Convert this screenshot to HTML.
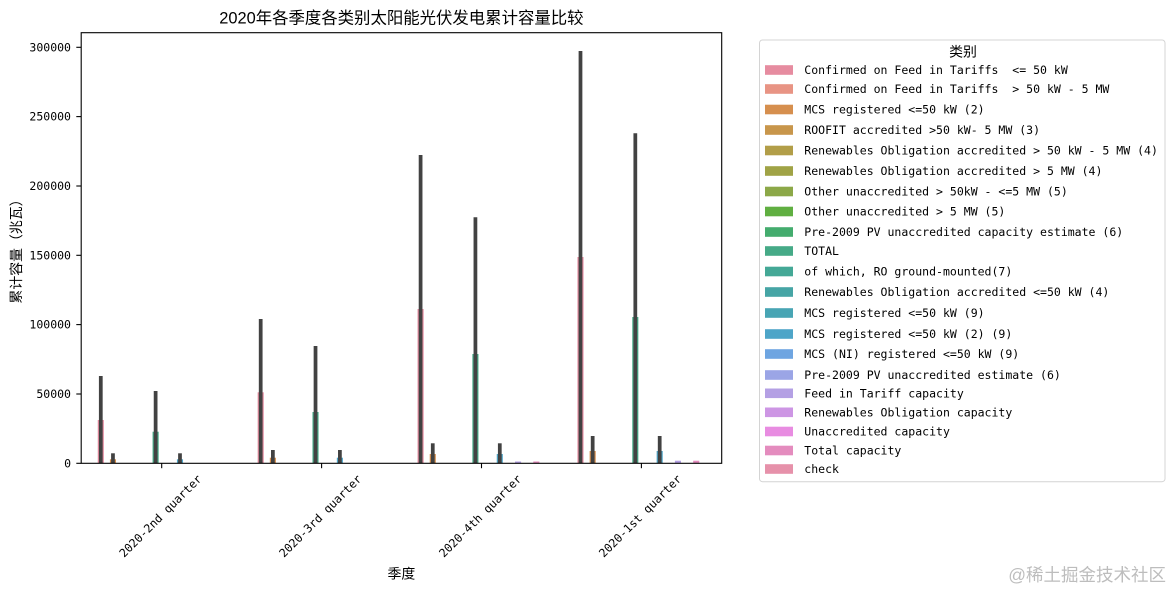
<!DOCTYPE html>
<html>
<head>
<meta charset="utf-8">
<style>
  html,body{margin:0;padding:0;background:#fff;}
  svg{display:block;}
  .mono{font-family:"DejaVu Sans Mono","Liberation Mono","Noto Sans CJK SC",monospace;font-size:11.53px;fill:#000;white-space:pre;}
  .cjk{font-family:"Liberation Sans","Noto Sans CJK SC",sans-serif;fill:#000;}
</style>
</head>
<body>
<svg width="1175" height="590" viewBox="0 0 1175 590" xmlns="http://www.w3.org/2000/svg">
  <rect x="0" y="0" width="1175" height="590" fill="#fff"/>

  <!-- Title -->
  <text class="cjk" x="401.4" y="18.5" font-size="16.4" text-anchor="middle" dominant-baseline="central">2020年各季度各类别太阳能光伏发电累计容量比较</text>

  <!-- Bars: group 0 -->
  <rect x="97.74" y="420" width="6.09" height="43.3" fill="#e68ca0"/>
  <rect x="109.92" y="459.3" width="6.09" height="4" fill="#d68f4e"/>
  <rect x="152.57" y="431.7" width="6.09" height="31.6" fill="#46aa87"/>
  <rect x="176.94" y="459.3" width="6.09" height="4" fill="#4ea5c8"/>
  <!-- group 1 -->
  <rect x="257.64" y="392.3" width="6.09" height="71" fill="#e68ca0"/>
  <rect x="269.82" y="457.7" width="6.09" height="5.6" fill="#d68f4e"/>
  <rect x="312.47" y="412" width="6.09" height="51.3" fill="#46aa87"/>
  <rect x="336.84" y="457.7" width="6.09" height="5.6" fill="#4ea5c8"/>
  <!-- group 2 -->
  <rect x="417.54" y="309" width="6.09" height="154.3" fill="#e68ca0"/>
  <rect x="429.72" y="454" width="6.09" height="9.3" fill="#d68f4e"/>
  <rect x="472.37" y="354" width="6.09" height="109.3" fill="#46aa87"/>
  <rect x="496.74" y="454" width="6.09" height="9.3" fill="#4ea5c8"/>
  <rect x="515.01" y="461.5" width="6.09" height="1.8" fill="#b4a0e4"/>
  <rect x="533.29" y="461.5" width="6.09" height="1.8" fill="#e48cbe"/>
  <!-- group 3 -->
  <rect x="577.44" y="257" width="6.09" height="206.3" fill="#e68ca0"/>
  <rect x="589.62" y="451" width="6.09" height="12.3" fill="#d68f4e"/>
  <rect x="632.27" y="317" width="6.09" height="146.3" fill="#46aa87"/>
  <rect x="656.64" y="451" width="6.09" height="12.3" fill="#4ea5c8"/>
  <rect x="674.91" y="460.7" width="6.09" height="2.6" fill="#b4a0e4"/>
  <rect x="693.19" y="460.7" width="6.09" height="2.6" fill="#e48cbe"/>

  <!-- Error bars -->
  <g stroke="#424242" stroke-width="3.75">
    <line x1="100.79" y1="463.3" x2="100.79" y2="376"/>
    <line x1="112.97" y1="463.3" x2="112.97" y2="453.3"/>
    <line x1="155.62" y1="463.3" x2="155.62" y2="391"/>
    <line x1="179.99" y1="463.3" x2="179.99" y2="453.3"/>

    <line x1="260.69" y1="463.3" x2="260.69" y2="319"/>
    <line x1="272.87" y1="463.3" x2="272.87" y2="450"/>
    <line x1="315.52" y1="463.3" x2="315.52" y2="346"/>
    <line x1="339.89" y1="463.3" x2="339.89" y2="450"/>

    <line x1="420.59" y1="463.3" x2="420.59" y2="155"/>
    <line x1="432.77" y1="463.3" x2="432.77" y2="443.3"/>
    <line x1="475.42" y1="463.3" x2="475.42" y2="217.3"/>
    <line x1="499.79" y1="463.3" x2="499.79" y2="443.3"/>

    <line x1="580.49" y1="463.3" x2="580.49" y2="51"/>
    <line x1="592.67" y1="463.3" x2="592.67" y2="436"/>
    <line x1="635.32" y1="463.3" x2="635.32" y2="133.3"/>
    <line x1="659.69" y1="463.3" x2="659.69" y2="436"/>
  </g>

  <!-- Axes frame -->
  <rect x="81.2" y="32.7" width="640.5" height="430.6" fill="none" stroke="#000" stroke-width="1.1"/>

  <!-- Y ticks -->
  <g stroke="#000" stroke-width="1.1">
    <line x1="76.3" y1="463.3" x2="81.2" y2="463.3"/>
    <line x1="76.3" y1="394" x2="81.2" y2="394"/>
    <line x1="76.3" y1="324.6" x2="81.2" y2="324.6"/>
    <line x1="76.3" y1="255.3" x2="81.2" y2="255.3"/>
    <line x1="76.3" y1="186" x2="81.2" y2="186"/>
    <line x1="76.3" y1="116.6" x2="81.2" y2="116.6"/>
    <line x1="76.3" y1="47.3" x2="81.2" y2="47.3"/>
  </g>
  <text class="mono" x="71" y="463.3" text-anchor="end" dominant-baseline="central">0</text>
  <text class="mono" x="71" y="394" text-anchor="end" dominant-baseline="central">50000</text>
  <text class="mono" x="71" y="324.6" text-anchor="end" dominant-baseline="central">100000</text>
  <text class="mono" x="71" y="255.3" text-anchor="end" dominant-baseline="central">150000</text>
  <text class="mono" x="71" y="186" text-anchor="end" dominant-baseline="central">200000</text>
  <text class="mono" x="71" y="116.6" text-anchor="end" dominant-baseline="central">250000</text>
  <text class="mono" x="71" y="47.3" text-anchor="end" dominant-baseline="central">300000</text>

  <!-- X ticks -->
  <g stroke="#000" stroke-width="1.1">
    <line x1="161.7" y1="463.3" x2="161.7" y2="468.2"/>
    <line x1="321.6" y1="463.3" x2="321.6" y2="468.2"/>
    <line x1="481.5" y1="463.3" x2="481.5" y2="468.2"/>
    <line x1="641.4" y1="463.3" x2="641.4" y2="468.2"/>
  </g>
  <text class="mono" x="160.5" y="516" text-anchor="middle" dominant-baseline="central" transform="rotate(-45 160.5 516)">2020-2nd quarter</text>
  <text class="mono" x="320.4" y="516" text-anchor="middle" dominant-baseline="central" transform="rotate(-45 320.4 516)">2020-3rd quarter</text>
  <text class="mono" x="480.3" y="516" text-anchor="middle" dominant-baseline="central" transform="rotate(-45 480.3 516)">2020-4th quarter</text>
  <text class="mono" x="640.2" y="516" text-anchor="middle" dominant-baseline="central" transform="rotate(-45 640.2 516)">2020-1st quarter</text>

  <!-- Axis labels -->
  <text class="cjk" x="401.4" y="573.5" font-size="13.9" text-anchor="middle" dominant-baseline="central">季度</text>
  <text class="cjk" x="16" y="248" font-size="13.9" text-anchor="middle" dominant-baseline="central" transform="rotate(-90 16 248)" style="font-family:'Noto Sans CJK SC',sans-serif">累计容量（兆瓦）</text>

  <!-- Legend -->
  <rect x="759.5" y="40" width="405.5" height="441.7" rx="3" ry="3" fill="#fff" stroke="#d4d4d4" stroke-width="1"/>
  <text class="cjk" x="963" y="51.5" font-size="13.9" text-anchor="middle" dominant-baseline="central">类别</text>

  <g>
    <rect x="765" y="65.2" width="28" height="9.6" fill="#e68ca0"/>
    <rect x="765" y="84.2" width="28" height="9.6" fill="#e89484"/>
    <rect x="765" y="104.7" width="28" height="9.6" fill="#d68f4e"/>
    <rect x="765" y="125.2" width="28" height="9.6" fill="#c8964b"/>
    <rect x="765" y="145.7" width="28" height="9.6" fill="#b29e48"/>
    <rect x="765" y="166.2" width="28" height="9.6" fill="#a0a346"/>
    <rect x="765" y="186.7" width="28" height="9.6" fill="#8ca848"/>
    <rect x="765" y="206.7" width="28" height="9.6" fill="#60af41"/>
    <rect x="765" y="227.2" width="28" height="9.6" fill="#44ac6e"/>
    <rect x="765" y="246.2" width="28" height="9.6" fill="#46aa87"/>
    <rect x="765" y="266.7" width="28" height="9.6" fill="#44a896"/>
    <rect x="765" y="287.2" width="28" height="9.6" fill="#46a5a5"/>
    <rect x="765" y="308.2" width="28" height="9.6" fill="#48a5b4"/>
    <rect x="765" y="329.2" width="28" height="9.6" fill="#4ea5c8"/>
    <rect x="765" y="349.2" width="28" height="9.6" fill="#6ea5e1"/>
    <rect x="765" y="370.2" width="28" height="9.6" fill="#9ba5e6"/>
    <rect x="765" y="388.5" width="28" height="9.6" fill="#b4a0e4"/>
    <rect x="765" y="407.5" width="28" height="9.6" fill="#cd96e4"/>
    <rect x="765" y="426.7" width="28" height="9.6" fill="#e88ce1"/>
    <rect x="765" y="445.7" width="28" height="9.6" fill="#e48cbe"/>
    <rect x="765" y="464.2" width="28" height="9.6" fill="#e691aa"/>
  </g>
  <g>
    <text class="mono" x="804.3" y="70" dominant-baseline="central">Confirmed on Feed in Tariffs  &lt;= 50 kW</text>
    <text class="mono" x="804.3" y="89" dominant-baseline="central">Confirmed on Feed in Tariffs  &gt; 50 kW - 5 MW</text>
    <text class="mono" x="804.3" y="109.5" dominant-baseline="central">MCS registered &lt;=50 kW (2)</text>
    <text class="mono" x="804.3" y="130" dominant-baseline="central">ROOFIT accredited &gt;50 kW- 5 MW (3)</text>
    <text class="mono" x="804.3" y="150.5" dominant-baseline="central">Renewables Obligation accredited &gt; 50 kW - 5 MW (4)</text>
    <text class="mono" x="804.3" y="171" dominant-baseline="central">Renewables Obligation accredited &gt; 5 MW (4)</text>
    <text class="mono" x="804.3" y="191.5" dominant-baseline="central">Other unaccredited &gt; 50kW - &lt;=5 MW (5)</text>
    <text class="mono" x="804.3" y="211.5" dominant-baseline="central">Other unaccredited &gt; 5 MW (5)</text>
    <text class="mono" x="804.3" y="232" dominant-baseline="central">Pre-2009 PV unaccredited capacity estimate (6)</text>
    <text class="mono" x="804.3" y="251" dominant-baseline="central">TOTAL</text>
    <text class="mono" x="804.3" y="271.5" dominant-baseline="central">of which, RO ground-mounted(7)</text>
    <text class="mono" x="804.3" y="292" dominant-baseline="central">Renewables Obligation accredited &lt;=50 kW (4)</text>
    <text class="mono" x="804.3" y="313" dominant-baseline="central">MCS registered &lt;=50 kW (9)</text>
    <text class="mono" x="804.3" y="334" dominant-baseline="central">MCS registered &lt;=50 kW (2) (9)</text>
    <text class="mono" x="804.3" y="354" dominant-baseline="central">MCS (NI) registered &lt;=50 kW (9)</text>
    <text class="mono" x="804.3" y="375" dominant-baseline="central">Pre-2009 PV unaccredited estimate (6)</text>
    <text class="mono" x="804.3" y="393.3" dominant-baseline="central">Feed in Tariff capacity</text>
    <text class="mono" x="804.3" y="412.3" dominant-baseline="central">Renewables Obligation capacity</text>
    <text class="mono" x="804.3" y="431.5" dominant-baseline="central">Unaccredited capacity</text>
    <text class="mono" x="804.3" y="450.5" dominant-baseline="central">Total capacity</text>
    <text class="mono" x="804.3" y="469" dominant-baseline="central">check</text>
  </g>

  <!-- Watermark -->
  <text class="cjk" x="1166" y="575" font-size="17.5" text-anchor="end" dominant-baseline="central" style="fill:#bdbdbd">@稀土掘金技术社区</text>
</svg>
</body>
</html>
